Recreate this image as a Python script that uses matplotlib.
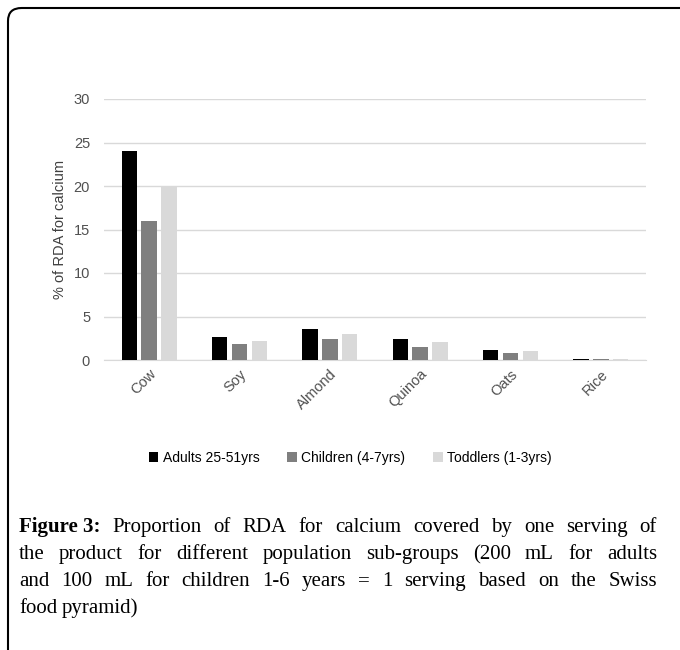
import numpy as np
import matplotlib.pyplot as plt
from matplotlib.patches import FancyBboxPatch

# data
milks = ['Cow', 'Soy', 'Almond', 'Quinoa', 'Oats', 'Rice']
adults = [24.0, 2.6, 3.6, 2.45, 1.15, 0.15]
children = [16.0, 1.8, 2.45, 1.55, 0.8, 0.12]
toddlers = [20.0, 2.2, 2.95, 2.05, 1.05, 0.1]
groups = ['Adults 25-51yrs', 'Children (4-7yrs)', 'Toddlers (1-3yrs)']
colors = ['#000000', '#7f7f7f', '#d9d9d9']

caption_lines = [
    'Proportion of RDA for calcium covered by one serving of',
    'the product for different population sub-groups (200 mL for adults',
    'and 100 mL for children 1-6 years = 1 serving based on the Swiss',
    'food pyramid)',
]

plt.rcParams['font.family'] = ['Liberation Sans', 'DejaVu Sans']

W, H = 680, 650
fig = plt.figure(figsize=(6.8, 6.5), dpi=100)
ax = fig.add_axes([104 / W, 1 - 360 / H, (646 - 104) / W, (360 - 99) / H])

x = np.arange(len(milks))
bw = 0.17
gap = 0.05
for i, (vals, name, c) in enumerate(zip([adults, children, toddlers], groups, colors)):
    ax.bar(x + (i - 1) * (bw + gap), vals, width=bw, color=c, label=name, zorder=3)

ax.set_xlim(-0.5, len(milks) - 0.5)
ax.set_ylim(0, 30)
ax.set_yticks(range(0, 31, 5))
ax.grid(axis='y', color='#d9d9d9', linewidth=1, zorder=0)
for s in ['top', 'right', 'left']:
    ax.spines[s].set_visible(False)
ax.spines['bottom'].set_color('#d9d9d9')
ax.tick_params(axis='y', length=0, labelsize=10.5, labelcolor='#505050', pad=10)
ax.tick_params(axis='x', length=0, labelsize=10.5, labelcolor='#505050', pad=5)
ax.set_xticks(x)
ax.set_xticklabels(milks, rotation=45, ha='right', rotation_mode='anchor')
ax.set_ylabel('% of RDA for calcium', fontsize=10.5, color='#404040', labelpad=5)

fig.legend(loc='center', bbox_to_anchor=(350 / W, 1 - 458 / H), ncol=3, frameon=False,
           fontsize=10, handlelength=0.7, handleheight=0.7, handletextpad=0.3,
           columnspacing=2.0, labelcolor='#000000')

# rounded frame around the figure
frame = FancyBboxPatch((8 / W, -0.1), (700 - 8) / W, 1.1 - 8 / H,
                       boxstyle='round,pad=0,rounding_size=0.02',
                       transform=fig.transFigure, fill=False,
                       edgecolor='black', linewidth=1.5)
fig.patches.append(frame)

# justified caption
fs = 15
left, right = 19, 657
fig.canvas.draw()
r = fig.canvas.get_renderer()
ys = [532, 559, 586, 613]
for li, (line, yy) in enumerate(zip(caption_lines, ys)):
    words = line.split(' ')
    items = []
    if li == 0:
        items.append(('Figure 3:', True))
    items += [(w, False) for w in words]
    texts = []
    for w, bold in items:
        t = fig.text(0, 1 - yy / H, w, fontsize=fs, family='Liberation Serif',
                     fontweight='bold' if bold else 'normal',
                     color='black', va='baseline')
        texts.append(t)
    widths = [t.get_window_extent(r).width for t in texts]
    if li < len(caption_lines) - 1:
        sp = (right - left - sum(widths)) / (len(texts) - 1)
    else:
        sp = fs * 0.3
    xx = left
    for t, wd in zip(texts, widths):
        t.set_x(xx / W)
        xx += wd + sp

fig.savefig('out.png', dpi=100)
